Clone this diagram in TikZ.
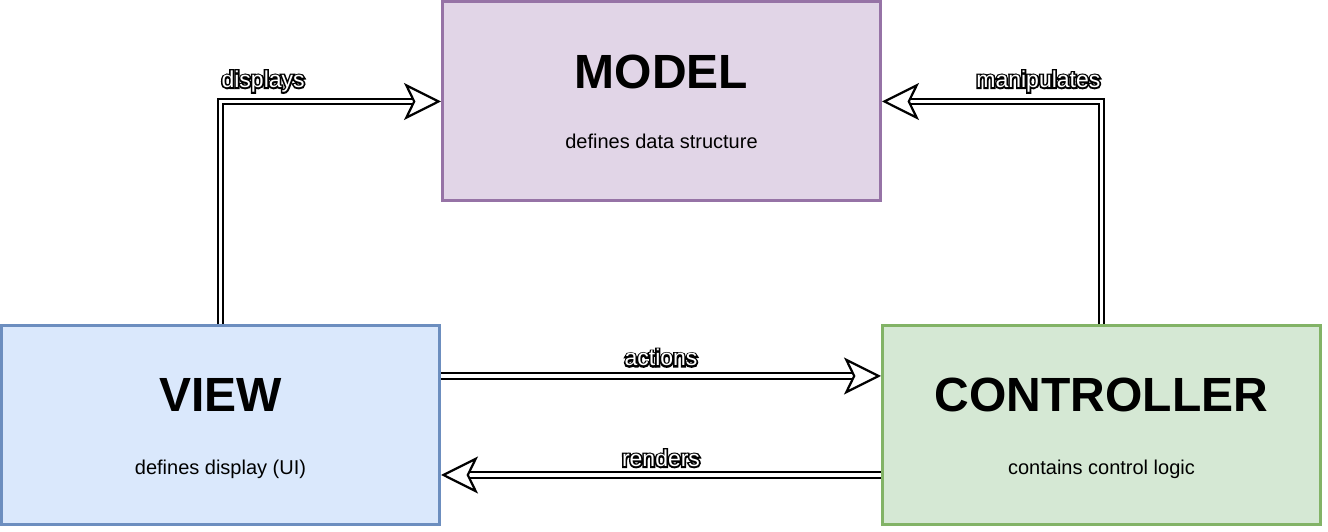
\documentclass[tikz,border=0pt]{standalone}
\usepackage{fontspec}
\setmainfont{Liberation Sans}
\usetikzlibrary{arrows.meta,positioning,calc}

\definecolor{modelfill}{HTML}{E1D5E7}
\definecolor{modeldraw}{HTML}{9673A6}
\definecolor{viewfill}{HTML}{DAE8FC}
\definecolor{viewdraw}{HTML}{6C8EBF}
\definecolor{ctrlfill}{HTML}{D5E8D4}
\definecolor{ctrldraw}{HTML}{82B366}

% white letters with a black edge: stroked copy below, white copy on top
\newcommand{\outlined}[1]{\rlap{\special{pdf:literal direct 0 G 1 Tr 3.2 w}#1\special{pdf:literal direct 0 Tr 0.4 w}}\textcolor{white}{#1}}

\tikzset{
  box/.style={rectangle, line width=3pt, minimum width=438pt, minimum height=199pt, inner sep=0pt},
  boxtitle/.style={font=\fontsize{48}{52}\selectfont\bfseries, inner sep=0pt, anchor=base},
  boxtext/.style={font=\fontsize{20}{24}\selectfont, inner sep=0pt, anchor=base},
  flow/.style={line width=2.2pt, double=white, double distance=3.4pt,
    -{Stealth[fill=white, length=37pt, width=37pt, inset=9pt, line width=2.2pt]}},
  flowlabel/.style={font=\fontsize{23}{26}\selectfont, inner sep=0pt},
}

\begin{document}
\begin{tikzpicture}[x=1pt,y=1pt]
\useasboundingbox[fill=white] (0,0) rectangle (1328,532);
% the three parts
\node[box, draw=modeldraw, fill=modelfill] (model) at (661.5,430.5) {};
\node[box, draw=viewdraw, fill=viewfill] (view) at (220.5,106.5) {};
\node[box, draw=ctrldraw, fill=ctrlfill] (controller) at (1101.5,106.5) {};
\node[boxtitle] (model-title) at ([yshift=13.2]model.center) {MODEL};
\node[boxtext] (model-text) at ([yshift=-46.8]model.center) {defines data structure};
\node[boxtitle] (view-title) at ([yshift=13.8]view.center) {VIEW};
\node[boxtext] (view-text) at ([yshift=-49.5]view.center) {defines display (UI)};
\node[boxtitle] (controller-title) at ([yshift=13.8]controller.center) {CONTROLLER};
\node[boxtext] (controller-text) at ([yshift=-49.5]controller.center) {contains control logic};
% connectors
\draw[flow] (view.north) |- node[flowlabel, pos=0.5, anchor=base west, yshift=14] (displays) {\outlined{displays}} (model.west);
\draw[flow] (controller.north) |- node[flowlabel, pos=0.5, anchor=base east, yshift=14] (manipulates) {\outlined{manipulates}} (model.east);
\draw[flow] ([yshift=49.5]view.east) -- node[flowlabel, anchor=base, yshift=10] (actions) {\outlined{actions}} ([yshift=49.5]controller.west);
\draw[flow] ([yshift=-49.5]controller.west) -- node[flowlabel, anchor=base, yshift=8.5] (renders) {\outlined{renders}} ([yshift=-49.5]view.east);
\end{tikzpicture}
\end{document}
